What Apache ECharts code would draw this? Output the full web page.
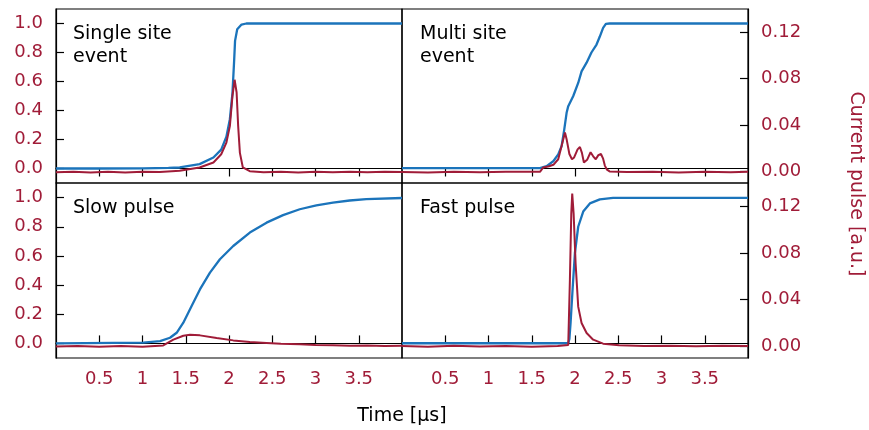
<!DOCTYPE html>
<html>
<head>
<meta charset="utf-8">
<script src="https://cdn.jsdelivr.net/npm/echarts@6/dist/echarts.min.js"></script>
<style>
  html, body { margin: 0; padding: 0; background: #fff; }
  #chart { width: 869px; height: 430px; }
</style>
</head>
<body>
<div id="chart"></div>
<script>
// tick positions
const timeTicks = [0.5, 1, 1.5, 2, 2.5, 3, 3.5]
const chargeTicks = [0, 0.2, 0.4, 0.6, 0.8, 1.0]
const currentTicks = [0, 0.04, 0.08, 0.12]

// charge pulse (blue, left axis) and current pulse (red, right axis), [time us, value]
const singleCharge = [[0, 0], [0.5, 0], [1.0, 0.001], [1.3, 0.004], [1.43, 0.007], [1.66, 0.03], [1.82, 0.076], [1.91, 0.13], [1.97, 0.22], [2.01, 0.34], [2.04, 0.52], [2.06, 0.75], [2.07, 0.88], [2.095, 0.96], [2.145, 0.993], [2.2, 1.0], [4, 1.0]]
const singleCurrent = [[0, -0.0008], [0.2, -0.0003], [0.4, -0.001], [0.6, -0.0004], [0.8, -0.0009], [1.0, -0.0002], [1.2, -0.0006], [1.43, 0.0005], [1.66, 0.0034], [1.82, 0.0077], [1.91, 0.0148], [1.97, 0.0248], [2.01, 0.039], [2.04, 0.065], [2.065, 0.079], [2.088, 0.068], [2.106, 0.039], [2.126, 0.016], [2.16, 0.0034], [2.24, 0.0002], [2.4, -0.0007], [2.6, -0.0002], [2.8, -0.0009], [3.0, -0.0003], [3.2, -0.0008], [3.4, -0.0002], [3.6, -0.0007], [3.8, -0.0003], [4, -0.0006]]

const multiCharge = [[0, 0.002], [1.595, 0.002], [1.672, 0.016], [1.749, 0.05], [1.806, 0.097], [1.845, 0.154], [1.876, 0.27], [1.903, 0.384], [1.922, 0.43], [1.98, 0.5], [2.037, 0.59], [2.076, 0.67], [2.134, 0.73], [2.19, 0.8], [2.249, 0.855], [2.287, 0.91], [2.325, 0.97], [2.357, 0.997], [2.4, 1.0], [4, 1.0]]
const multiCurrent = [[0, -0.0005], [0.3, -0.001], [0.6, -0.0003], [0.9, -0.0008], [1.2, -0.0002], [1.595, -0.0004], [1.633, 0.0034], [1.7, 0.0045], [1.75, 0.0057], [1.806, 0.0105], [1.845, 0.022], [1.884, 0.0335], [1.905, 0.027], [1.935, 0.015], [1.965, 0.0105], [1.99, 0.012], [2.03, 0.019], [2.057, 0.021], [2.08, 0.016], [2.103, 0.0077], [2.14, 0.01], [2.18, 0.0165], [2.21, 0.013], [2.24, 0.0105], [2.27, 0.014], [2.3, 0.015], [2.325, 0.011], [2.345, 0.005], [2.37, 0.0015], [2.4, 0], [2.6, -0.0006], [2.9, -0.0002], [3.2, -0.0009], [3.5, -0.0003], [3.8, -0.0007], [4, -0.0004]]

const slowCharge = [[0, 0], [1.01, 0.005], [1.203, 0.016], [1.318, 0.039], [1.395, 0.073], [1.472, 0.142], [1.568, 0.256], [1.664, 0.37], [1.78, 0.485], [1.895, 0.577], [2.049, 0.668], [2.241, 0.76], [2.434, 0.828], [2.625, 0.88], [2.818, 0.92], [3.01, 0.947], [3.202, 0.965], [3.395, 0.98], [3.587, 0.99], [4, 0.997]]
const slowCurrent = [[0, -0.0002], [0.25, 0.0003], [0.5, -0.0004], [0.75, 0.0002], [1.0, -0.0003], [1.24, 0.0008], [1.357, 0.0057], [1.472, 0.0091], [1.549, 0.01], [1.664, 0.0094], [1.857, 0.0072], [2.049, 0.0051], [2.241, 0.0037], [2.434, 0.0029], [2.6, 0.0022], [2.818, 0.0017], [3.0, 0.0012], [3.2, 0.0009], [3.4, 0.0004], [3.6, 0.0007], [3.8, 0.0003], [4, 0.0005]]

const fastCharge = [[0, 0.001], [1.922, 0.001], [1.935, 0.03], [1.949, 0.142], [1.972, 0.37], [1.999, 0.62], [2.037, 0.8], [2.095, 0.904], [2.172, 0.96], [2.287, 0.988], [2.44, 0.998], [4, 0.998]]
const fastCurrent = [[0, 0.0003], [0.3, -0.0003], [0.6, 0.0004], [0.9, -0.0002], [1.2, 0.0003], [1.5, -0.0003], [1.8, 0.0002], [1.922, 0.0012], [1.941, 0.057], [1.957, 0.114], [1.968, 0.131], [1.984, 0.114], [2.007, 0.071], [2.037, 0.034], [2.076, 0.02], [2.134, 0.0114], [2.21, 0.0057], [2.325, 0.0023], [2.51, 0.0009], [2.8, 0.0002], [3.1, 0.0006], [3.4, 0.0001], [3.7, 0.0005], [4, 0.0002]]

const BLUE = '#1b74bb'
const RED = '#a01c38'
const FONT = 'DejaVu Sans'

const panels = [
  { grid: { left: 56, top: 9, width: 346, height: 174 }, xPos: 'top', ySide: 'left', charge: singleCharge, current: singleCurrent },
  { grid: { left: 402, top: 9, width: 346, height: 174 }, xPos: 'top', ySide: 'right', charge: multiCharge, current: multiCurrent },
  { grid: { left: 56, top: 183, width: 346, height: 175 }, xPos: 'bottom', ySide: 'left', charge: slowCharge, current: slowCurrent },
  { grid: { left: 402, top: 183, width: 346, height: 175 }, xPos: 'bottom', ySide: 'right', charge: fastCharge, current: fastCurrent }
]

const grid = []
const xAxis = []
const yAxis = []
const series = []

panels.forEach((p, i) => {
  grid.push(Object.assign({
    show: true,
    borderColor: '#000',
    borderWidth: 1.2,
    outerBoundsMode: 'none'
  }, p.grid))

  xAxis.push({
    type: 'value',
    gridIndex: i,
    position: p.xPos,
    min: 0,
    max: 4,
    splitLine: { show: false },
    axisLine: { show: true, lineStyle: { color: '#000', width: 1.2 } },
    axisTick: { show: true, inside: true, length: 8, customValues: timeTicks, lineStyle: { color: '#000', width: 1.2 } },
    axisLabel: {
      show: p.xPos === 'bottom',
      customValues: timeTicks,
      margin: 12,
      color: RED,
      fontFamily: FONT,
      fontSize: 18
    }
  })

  // charge axis (left)
  yAxis.push({
    type: 'value',
    gridIndex: i,
    position: 'left',
    min: -0.1,
    max: 1.1,
    splitLine: { show: false },
    axisLine: { show: p.ySide === 'left', lineStyle: { color: '#000', width: 1.2 } },
    axisTick: { show: p.ySide === 'left', inside: true, length: 8, customValues: chargeTicks, lineStyle: { color: '#000', width: 1.2 } },
    axisLabel: {
      show: p.ySide === 'left',
      customValues: chargeTicks,
      formatter: (v) => v.toFixed(1),
      margin: 13,
      color: RED,
      fontFamily: FONT,
      fontSize: 18
    }
  })

  // current axis (right)
  yAxis.push({
    type: 'value',
    gridIndex: i,
    position: 'right',
    min: -0.01,
    max: 0.14,
    splitLine: { show: false },
    axisLine: { show: p.ySide === 'right', lineStyle: { color: '#000', width: 1.2 } },
    axisTick: { show: p.ySide === 'right', inside: true, length: 8, customValues: currentTicks, lineStyle: { color: '#000', width: 1.2 } },
    axisLabel: {
      show: p.ySide === 'right',
      customValues: currentTicks,
      formatter: (v) => v.toFixed(2),
      margin: 13,
      color: RED,
      fontFamily: FONT,
      fontSize: 18
    }
  })

  series.push({
    type: 'line',
    xAxisIndex: i,
    yAxisIndex: 2 * i,
    data: p.charge,
    showSymbol: false,
    lineStyle: { color: BLUE, width: 2.3 },
    z: 2
  })
  series.push({
    type: 'line',
    xAxisIndex: i,
    yAxisIndex: 2 * i + 1,
    data: p.current,
    showSymbol: false,
    lineStyle: { color: RED, width: 2 },
    z: 3
  })
})

const txt = (text, x, y, extra) => Object.assign({
  type: 'text',
  x: x,
  y: y,
  style: { text: text, fill: '#000', font: '19px "' + FONT + '"', verticalAlign: 'middle' }
}, extra || {})

const chart = echarts.init(document.getElementById('chart'))
chart.setOption({
  animation: false,
  backgroundColor: '#fff',
  grid: grid,
  xAxis: xAxis,
  yAxis: yAxis,
  series: series,
  graphic: [
    txt('Single site', 73, 34),
    txt('event', 73, 57),
    txt('Multi site', 420, 34),
    txt('event', 420, 57),
    txt('Slow pulse', 73, 208),
    txt('Fast pulse', 420, 208),
    {
      type: 'text',
      x: 402,
      y: 416,
      style: { text: 'Time [μs]', fill: '#000', font: '19px "' + FONT + '"', align: 'center', verticalAlign: 'middle' }
    },
    {
      type: 'text',
      x: 856,
      y: 184,
      rotation: -Math.PI / 2,
      style: { text: 'Current pulse [a.u.]', fill: RED, font: '19px "' + FONT + '"', align: 'center', verticalAlign: 'middle' }
    }
  ]
})
</script>
</body>
</html>
